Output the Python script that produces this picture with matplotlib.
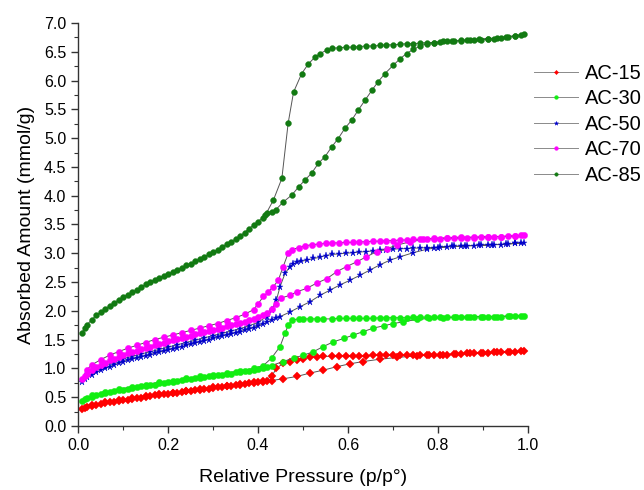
import numpy as np
import matplotlib
matplotlib.use("Agg")
import matplotlib.pyplot as plt
from matplotlib.ticker import MultipleLocator

plt.rcParams['font.family'] = ['Liberation Sans', 'DejaVu Sans']

# relative pressures shared by the low-pressure part of every adsorption run
p_low = [0.008, 0.015, 0.02, 0.03, 0.04, 0.05, 0.06, 0.07, 0.08, 0.09, 0.10,
         0.11, 0.12, 0.13, 0.14, 0.15, 0.16, 0.17, 0.18, 0.19, 0.20, 0.21,
         0.22, 0.23, 0.24, 0.25, 0.26, 0.27, 0.28, 0.29, 0.30, 0.31, 0.32,
         0.33, 0.34, 0.35, 0.36, 0.37, 0.38, 0.39, 0.40, 0.41, 0.42]

# pressures of the desorption plateau (high to low)
p_plat = [0.985, 0.97, 0.955, 0.94, 0.925, 0.91, 0.895, 0.88, 0.865, 0.85,
          0.835, 0.82, 0.805, 0.79, 0.775, 0.76, 0.745, 0.73, 0.715, 0.70,
          0.685, 0.67, 0.655, 0.64, 0.625, 0.61, 0.595, 0.58, 0.565]

# ---- AC-15 ----
ac15_ads_low = [0.30, 0.32, 0.33, 0.35, 0.37, 0.38, 0.40, 0.41, 0.42, 0.44, 0.45,
                0.46, 0.47, 0.48, 0.49, 0.51, 0.52, 0.53, 0.54, 0.55, 0.56, 0.57,
                0.58, 0.59, 0.60, 0.61, 0.62, 0.63, 0.64, 0.65, 0.66, 0.67, 0.68,
                0.69, 0.70, 0.71, 0.72, 0.73, 0.74, 0.75, 0.76, 0.77, 0.78]
ac15_ads_p = [0.43, 0.456, 0.486, 0.516, 0.545, 0.575, 0.604, 0.634, 0.671, 0.708,
              0.753, 0.78, 0.81, 0.84, 0.87, 0.90, 0.93, 0.96, 0.99]
ac15_ads_q = [0.79, 0.82, 0.86, 0.92, 0.97, 1.03, 1.08, 1.12, 1.16, 1.19,
              1.22, 1.23, 1.24, 1.25, 1.26, 1.27, 1.28, 1.29, 1.30]
ac15_plat_q = [1.30, 1.29, 1.29, 1.28, 1.28, 1.27, 1.27, 1.26, 1.26, 1.25,
               1.25, 1.24, 1.24, 1.24, 1.23, 1.23, 1.23, 1.23, 1.23, 1.23,
               1.23, 1.23, 1.23, 1.22, 1.22, 1.22, 1.22, 1.22, 1.21]
ac15_des_p = [0.545, 0.53, 0.515, 0.50, 0.486, 0.47, 0.456, 0.441, 0.43, 0.412,
              0.39, 0.36, 0.33, 0.30, 0.27, 0.24, 0.21, 0.18, 0.15, 0.12, 0.09,
              0.06, 0.03]
ac15_des_q = [1.21, 1.20, 1.19, 1.17, 1.15, 1.12, 1.09, 1.00, 0.86, 0.78,
              0.76, 0.73, 0.70, 0.67, 0.64, 0.61, 0.58, 0.55, 0.52, 0.48, 0.45,
              0.41, 0.36]

# ---- AC-30 ----
ac30_ads_low = [0.44, 0.47, 0.49, 0.51, 0.53, 0.55, 0.57, 0.59, 0.60, 0.62, 0.63,
                0.65, 0.66, 0.67, 0.69, 0.70, 0.71, 0.72, 0.74, 0.75, 0.76, 0.77,
                0.78, 0.80, 0.81, 0.82, 0.83, 0.84, 0.85, 0.86, 0.87, 0.88, 0.89,
                0.90, 0.91, 0.93, 0.94, 0.95, 0.96, 0.98, 0.99, 1.01, 1.03]
ac30_ads_p = [0.43, 0.456, 0.479, 0.501, 0.523, 0.545, 0.567, 0.59, 0.612, 0.634,
              0.656, 0.679, 0.701, 0.723, 0.753, 0.78, 0.81, 0.84, 0.87, 0.90,
              0.93, 0.96, 0.99]
ac30_ads_q = [1.05, 1.12, 1.18, 1.23, 1.29, 1.38, 1.46, 1.52, 1.58, 1.64,
              1.70, 1.74, 1.78, 1.81, 1.85, 1.87, 1.88, 1.89, 1.89, 1.90,
              1.90, 1.91, 1.91]
ac30_plat_q = [1.91, 1.91, 1.91, 1.90, 1.90, 1.90, 1.90, 1.90, 1.89, 1.89,
               1.89, 1.89, 1.89, 1.89, 1.89, 1.89, 1.89, 1.88, 1.88, 1.88,
               1.88, 1.88, 1.87, 1.87, 1.87, 1.87, 1.87, 1.87, 1.86]
ac30_des_p = [0.545, 0.53, 0.515, 0.50, 0.49, 0.475, 0.467, 0.46, 0.449, 0.43,
              0.412, 0.39, 0.36, 0.33, 0.30, 0.27, 0.24, 0.21, 0.18, 0.15, 0.12,
              0.09, 0.06, 0.03]
ac30_des_q = [1.86, 1.86, 1.86, 1.86, 1.86, 1.84, 1.75, 1.61, 1.38, 1.18,
              1.05, 1.00, 0.96, 0.92, 0.89, 0.86, 0.83, 0.79, 0.76, 0.72, 0.68,
              0.64, 0.59, 0.53]

# ---- AC-50 ----
ac50_ads_low = [0.76, 0.81, 0.85, 0.89, 0.93, 0.97, 1.00, 1.03, 1.06, 1.09, 1.12,
                1.14, 1.16, 1.18, 1.20, 1.22, 1.24, 1.26, 1.28, 1.30, 1.32, 1.34,
                1.36, 1.38, 1.40, 1.42, 1.44, 1.46, 1.48, 1.50, 1.52, 1.54, 1.56,
                1.58, 1.60, 1.62, 1.64, 1.66, 1.69, 1.71, 1.74, 1.77, 1.80]
ac50_ads_p = [0.43, 0.44, 0.449, 0.471, 0.493, 0.516, 0.538, 0.56, 0.582, 0.604,
              0.627, 0.649, 0.671, 0.693, 0.716, 0.745, 0.775, 0.80, 0.83, 0.86,
              0.89, 0.92, 0.95, 0.97, 0.99]
ac50_ads_q = [1.84, 1.87, 1.90, 1.98, 2.07, 2.16, 2.27, 2.36, 2.45, 2.53,
              2.62, 2.71, 2.80, 2.88, 2.94, 3.01, 3.07, 3.10, 3.12, 3.13,
              3.14, 3.15, 3.16, 3.17, 3.18]
ac50_plat_q = [3.18, 3.17, 3.16, 3.15, 3.15, 3.14, 3.14, 3.13, 3.13, 3.12,
               3.12, 3.11, 3.11, 3.10, 3.10, 3.09, 3.09, 3.08, 3.08, 3.07,
               3.06, 3.05, 3.04, 3.03, 3.02, 3.01, 3.00, 2.99, 2.98]
ac50_des_p = [0.55, 0.538, 0.523, 0.508, 0.496, 0.486, 0.478, 0.471, 0.46,
              0.449, 0.441, 0.43, 0.419,
              0.40, 0.38, 0.36, 0.34, 0.32, 0.30, 0.28, 0.26, 0.24, 0.22, 0.20,
              0.18, 0.16, 0.14, 0.12, 0.10, 0.08, 0.06, 0.04, 0.02]
ac50_des_q = [2.96, 2.93, 2.91, 2.88, 2.86, 2.84, 2.81, 2.77, 2.65,
              2.42, 2.19, 2.01, 1.90,
              1.80, 1.74, 1.69, 1.65, 1.61, 1.57, 1.53, 1.49, 1.45, 1.41, 1.37,
              1.33, 1.29, 1.25, 1.21, 1.17, 1.11, 1.05, 0.98, 0.90]

# ---- AC-70 ----
ac70_ads_low = [0.82, 0.87, 0.91, 0.97, 1.02, 1.06, 1.10, 1.14, 1.17, 1.20, 1.23,
                1.26, 1.28, 1.31, 1.33, 1.36, 1.38, 1.40, 1.43, 1.45, 1.47, 1.49,
                1.51, 1.53, 1.55, 1.57, 1.59, 1.61, 1.63, 1.65, 1.67, 1.69, 1.71,
                1.73, 1.75, 1.77, 1.79, 1.81, 1.84, 1.86, 1.89, 1.92, 1.96]
ac70_ads_p = [0.43, 0.44, 0.45, 0.471, 0.486, 0.508, 0.53, 0.553, 0.575, 0.597,
              0.619, 0.641, 0.664, 0.686, 0.708, 0.738, 0.767, 0.79, 0.82, 0.85,
              0.88, 0.91, 0.94, 0.97, 0.99]
ac70_ads_q = [2.03, 2.12, 2.22, 2.27, 2.33, 2.39, 2.48, 2.56, 2.68, 2.77,
              2.85, 2.94, 3.03, 3.08, 3.14, 3.20, 3.24, 3.26, 3.27, 3.28,
              3.28, 3.29, 3.29, 3.30, 3.31]
ac70_plat_q = [3.31, 3.30, 3.30, 3.29, 3.29, 3.28, 3.28, 3.27, 3.27, 3.26,
               3.26, 3.26, 3.25, 3.25, 3.25, 3.24, 3.24, 3.23, 3.23, 3.22,
               3.22, 3.21, 3.21, 3.20, 3.20, 3.19, 3.19, 3.18, 3.18]
ac70_des_p = [0.55, 0.535, 0.52, 0.505, 0.49, 0.475, 0.467, 0.456, 0.445, 0.434,
              0.423, 0.412, 0.40,
              0.39, 0.37, 0.35, 0.33, 0.31, 0.29, 0.27, 0.25, 0.23, 0.21, 0.19,
              0.17, 0.15, 0.13, 0.11, 0.09, 0.07, 0.05, 0.03, 0.02]
ac70_des_q = [3.17, 3.16, 3.15, 3.13, 3.10, 3.06, 3.00, 2.77, 2.53, 2.42,
              2.33, 2.25, 2.12,
              2.02, 1.94, 1.88, 1.83, 1.78, 1.74, 1.70, 1.66, 1.62, 1.58, 1.54,
              1.50, 1.45, 1.40, 1.35, 1.29, 1.23, 1.15, 1.06, 0.98]

# ---- AC-85 ----
ac85_ads_low = [1.61, 1.71, 1.76, 1.84, 1.92, 1.98, 2.03, 2.09, 2.14, 2.19, 2.24,
                2.28, 2.32, 2.36, 2.41, 2.46, 2.50, 2.54, 2.57, 2.61, 2.64, 2.67,
                2.71, 2.75, 2.79, 2.82, 2.86, 2.90, 2.94, 2.98, 3.02, 3.06, 3.11,
                3.16, 3.20, 3.25, 3.30, 3.36, 3.43, 3.49, 3.55, 3.62, 3.70]
ac85_ads_p = [0.43, 0.44, 0.456, 0.475, 0.49, 0.504, 0.519, 0.534, 0.549, 0.564,
              0.578, 0.593, 0.608, 0.623, 0.638, 0.653, 0.667, 0.682, 0.701, 0.716,
              0.73, 0.745, 0.76, 0.775, 0.79, 0.81, 0.83, 0.85, 0.87, 0.89, 0.91,
              0.93, 0.95, 0.97, 0.99]
ac85_ads_q = [3.72, 3.76, 3.89, 4.01, 4.15, 4.27, 4.39, 4.56, 4.68, 4.85,
              4.99, 5.17, 5.31, 5.49, 5.66, 5.83, 5.98, 6.12, 6.27, 6.38,
              6.47, 6.54, 6.60, 6.64, 6.66, 6.68, 6.69, 6.70, 6.71, 6.72, 6.73,
              6.74, 6.76, 6.78, 6.81]
ac85_plat_q = [6.79, 6.77, 6.75, 6.74, 6.73, 6.72, 6.71, 6.70, 6.70, 6.69,
               6.68, 6.68, 6.67, 6.66, 6.66, 6.65, 6.64, 6.64, 6.63, 6.62,
               6.62, 6.61, 6.60, 6.60, 6.59, 6.58, 6.58, 6.57, 6.56]
ac85_des_p = [0.553, 0.538, 0.527, 0.512, 0.497, 0.479, 0.467, 0.453, 0.434, 0.416]
ac85_des_q = [6.53, 6.47, 6.41, 6.29, 6.12, 5.80, 5.26, 4.30, 3.92, 3.66]

samples = [
    ("AC-15", ac15_ads_low, ac15_ads_p, ac15_ads_q, ac15_plat_q, ac15_des_p, ac15_des_q, "#ff0000", "D", 3.6),
    ("AC-30", ac30_ads_low, ac30_ads_p, ac30_ads_q, ac30_plat_q, ac30_des_p, ac30_des_q, "#11ee11", "o", 4.5),
    ("AC-50", ac50_ads_low, ac50_ads_p, ac50_ads_q, ac50_plat_q, ac50_des_p, ac50_des_q, "#0000cc", "*", 5.2),
    ("AC-70", ac70_ads_low, ac70_ads_p, ac70_ads_q, ac70_plat_q, ac70_des_p, ac70_des_q, "#ff00ff", "o", 4.5),
    ("AC-85", ac85_ads_low, ac85_ads_p, ac85_ads_q, ac85_plat_q, ac85_des_p, ac85_des_q, "#127a12", "o", 4.2),
]

fig = plt.figure(figsize=(6.44, 4.9), dpi=100)
ax = fig.add_axes([78/644, 64/490, 450/644, 403/490])

for name, low, ap, aq, plq, dp, dq, col, mk, ms in samples:
    # adsorption then desorption, drawn as one continuous run
    p = list(p_low) + ap + p_plat + dp
    q = list(low) + aq + plq + dq
    ax.plot(p, q, color="#555555", lw=0.7, marker=mk, ms=ms,
            mfc=col, mec=col, mew=0.3, label=name)

ax.set_xlim(0, 1.0)
ax.set_ylim(0, 7.0)
ax.xaxis.set_major_locator(MultipleLocator(0.2))
ax.xaxis.set_minor_locator(MultipleLocator(0.1))
ax.yaxis.set_major_locator(MultipleLocator(0.5))
ax.yaxis.set_minor_locator(MultipleLocator(0.25))
ax.xaxis.set_major_formatter(plt.FormatStrFormatter("%.1f"))
ax.yaxis.set_major_formatter(plt.FormatStrFormatter("%.1f"))

for s in ["top", "right"]:
    ax.spines[s].set_visible(False)
for s in ["left", "bottom"]:
    ax.spines[s].set_linewidth(1.0)
    ax.spines[s].set_color("#333333")

ax.tick_params(which="major", direction="out", length=5, width=1.0,
               labelsize=11.5, colors="#333333", labelcolor="black")
ax.tick_params(which="minor", direction="out", length=3, width=0.8, colors="#333333")
ax.set_xlabel("Relative Pressure (p/p°)", fontsize=14, labelpad=12)
ax.set_ylabel("Absorbed Amount (mmol/g)", fontsize=14, labelpad=6)

leg = fig.legend(loc="upper left", bbox_to_anchor=(534/644, 1 - 64/490),
                 frameon=False, fontsize=14.5, handlelength=2.2, handletextpad=0.35,
                 labelspacing=0.32, borderpad=0, borderaxespad=0, markerscale=0.6)
for h in leg.get_lines():
    h.set_color("#8a8a8a")

fig.savefig("out.png", dpi=100)
